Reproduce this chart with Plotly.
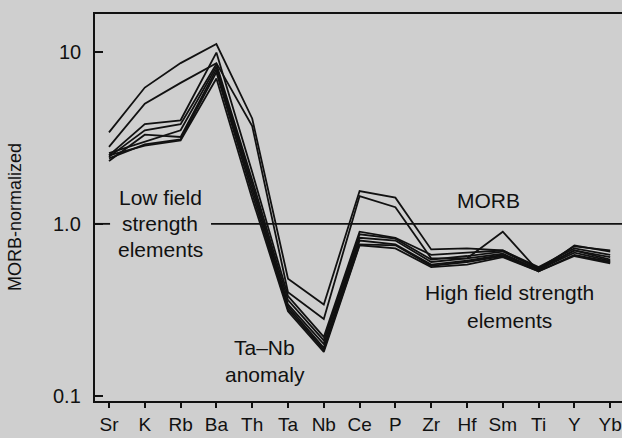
import plotly.graph_objects as go

elements = ["Sr", "K", "Rb", "Ba", "Th", "Ta", "Nb", "Ce", "P", "Zr", "Hf", "Sm", "Ti", "Y", "Yb"]

sample_1 = [3.4, 6.2, 8.6, 11.1, 4.1, 0.48, 0.34, 1.55, 1.42, 0.71, 0.72, 0.70, 0.55, 0.74, 0.70]
sample_2 = [2.8, 5.0, 6.6, 8.6, 3.7, 0.40, 0.28, 1.45, 1.25, 0.63, 0.63, 0.90, 0.53, 0.75, 0.69]
sample_3 = [2.5, 3.8, 4.0, 9.9, 2.0, 0.38, 0.22, 0.90, 0.83, 0.66, 0.68, 0.70, 0.56, 0.72, 0.66]
sample_4 = [2.45, 3.5, 3.8, 8.5, 1.8, 0.36, 0.21, 0.87, 0.82, 0.62, 0.65, 0.69, 0.55, 0.70, 0.64]
sample_5 = [2.58, 3.0, 3.5, 8.2, 1.7, 0.34, 0.20, 0.83, 0.80, 0.60, 0.63, 0.67, 0.54, 0.70, 0.62]
sample_6 = [2.32, 3.3, 3.2, 7.9, 1.6, 0.33, 0.19, 0.80, 0.76, 0.58, 0.61, 0.66, 0.54, 0.68, 0.61]
sample_7 = [2.4, 2.9, 3.1, 7.6, 1.5, 0.32, 0.185, 0.76, 0.75, 0.57, 0.60, 0.65, 0.53, 0.66, 0.60]
sample_8 = [2.5, 2.85, 3.05, 7.0, 1.4, 0.31, 0.18, 0.75, 0.72, 0.56, 0.58, 0.64, 0.53, 0.65, 0.59]

samples = [sample_1, sample_2, sample_3, sample_4, sample_5, sample_6, sample_7, sample_8]

y_tickvals = [0.1, 1, 10]
y_ticktext = ["0.1", "1.0", "10"]

FONT = "Liberation Sans, Arial, Helvetica, sans-serif"
INK = "#111111"
BG = "#cfcfcf"

fig = go.Figure()
x_idx = list(range(len(elements)))
for s in samples:
    fig.add_trace(go.Scatter(x=x_idx, y=s, mode="lines",
                             line=dict(color=INK, width=1.8),
                             showlegend=False, hoverinfo="skip"))

x_lo, x_hi = -0.391, 14.33
PLOT_W = 527.0

# MORB = 1 reference line (with a gap for the text)
fig.add_shape(type="line", xref="x", yref="y", x0=x_lo, x1=0.03, y0=1, y1=1,
              line=dict(color=INK, width=1.8))
fig.add_shape(type="line", xref="x", yref="y", x0=2.85, x1=x_hi, y0=1, y1=1,
              line=dict(color=INK, width=1.8))

def ann(text, x, y_px):
    ylog = 1.22 - (y_px - 14) / 172.0
    fig.add_annotation(text=text, x=x, y=ylog, xref="x", yref="y",
                       showarrow=False, font=dict(family=FONT, size=21, color=INK),
                       xanchor="center", yanchor="middle")

def px2x(px):
    return (px - 109) / 35.8

ann("Low field", px2x(160), 197)
ann("strength", px2x(160), 223)
ann("elements", px2x(160), 249)
ann("MORB", px2x(489), 200)
ann("High field strength", px2x(510), 292)
ann("elements", px2x(510), 320)
ann("Ta–Nb", px2x(265), 347)
ann("anomaly", px2x(265), 374)

# y tick labels, placed farther from the axis than plotly's default
for v, t in zip(y_tickvals, y_ticktext):
    import math
    fig.add_annotation(text=t, xref="paper", yref="y", x=-12 / PLOT_W, y=math.log10(v),
                       showarrow=False, xanchor="right", yanchor="middle",
                       font=dict(family=FONT, size=20, color=INK))

fig.add_annotation(text="MORB-normalized", xref="paper", yref="paper",
                   x=(15 - 95) / PLOT_W, y=(401 - 217) / 387.0, textangle=-90,
                   showarrow=False, font=dict(family=FONT, size=18, color=INK),
                   xanchor="center", yanchor="middle")

fig.update_layout(
    width=622, height=438,
    margin=dict(l=95, r=0, t=14, b=37),
    paper_bgcolor=BG, plot_bgcolor=BG,
    font=dict(family=FONT, color=INK),
    xaxis=dict(range=[x_lo, x_hi], tickmode="array", tickvals=x_idx, ticktext=elements,
               showgrid=False, zeroline=False, showline=True, linecolor=INK, linewidth=2,
               mirror=True, ticks="outside", ticklen=5, tickwidth=1.5, tickcolor=INK,
               tickfont=dict(size=19, family=FONT, color=INK)),
    yaxis=dict(type="log", range=[-1.03, 1.22], tickmode="array", tickvals=y_tickvals,
               showticklabels=False,
               showgrid=False, zeroline=False, showline=True,
               linecolor=INK, linewidth=2, ticks="inside", ticklen=8, tickwidth=1.8,
               tickcolor=INK),
)

fig.write_html("out.html")
